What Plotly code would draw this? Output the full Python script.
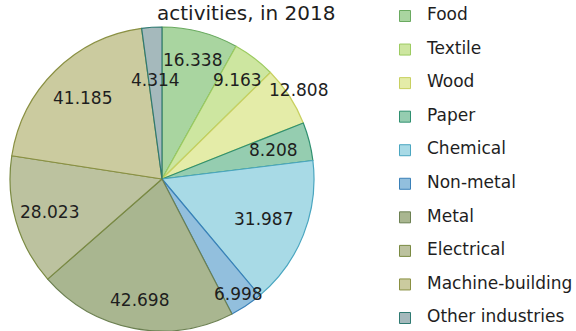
import math
import plotly.graph_objects as go

categories = ["Food", "Textile", "Wood", "Paper", "Chemical", "Non-metal",
              "Metal", "Electrical", "Machine-building", "Other industries"]
values = [16.338, 9.163, 12.808, 8.208, 31.987, 6.998, 42.698, 28.023, 41.185, 4.314]
title_text = "activities, in 2018"

# styles
fill_colors = ["#a9d5a0", "#cde6a0", "#e4eca8", "#95cdb0", "#a8dae6", "#92bfdd",
               "#a9b690", "#bcc29f", "#cbcb9f", "#a5b9bc"]
line_colors = ["#6aaa60", "#9ccb60", "#c8d060", "#2f9070", "#4aa6c0", "#3a80b8",
               "#6c8052", "#7a8a42", "#8a9042", "#2f7a72"]
label_radius = [0.81, 0.82, 1.07, 0.76, 0.72, 0.91, 0.81, 0.77, 0.75, 0.65]

W, H = 576, 331
PIE_L, PIE_R, PIE_T = 10, 314, 27
cx = (PIE_L + PIE_R) / 2
r = (PIE_R - PIE_L) / 2
cy = PIE_T + r
FONT = "DejaVu Sans"
TXT = "#1e1e1e"

fig = go.Figure()
fig.add_trace(go.Pie(
    labels=categories, values=values, sort=False, direction="clockwise", rotation=0,
    marker=dict(colors=fill_colors, line=dict(color=line_colors, width=1.2)),
    textinfo="none", showlegend=False, hoverinfo="label+value",
    domain=dict(x=[PIE_L / W, PIE_R / W], y=[0, 1 - PIE_T / H]),
))

# value labels placed at each slice's mid-angle
total = sum(values)
cum = 0.0
for v, rf in zip(values, label_radius):
    ang = math.radians((cum + v / 2) / total * 360)
    cum += v
    px = cx + rf * r * math.sin(ang)
    py = cy - rf * r * math.cos(ang)
    fig.add_annotation(text=f"{v:.3f}", x=px / W, y=1 - py / H, xref="paper", yref="paper",
                       xanchor="center", yanchor="middle", showarrow=False,
                       font=dict(family=FONT, size=17, color=TXT))

# legend drawn as markers + text on a hidden axis
idx = list(range(len(categories)))
fig.add_trace(go.Scatter(
    x=[405 / W] * len(categories), y=idx, mode="markers", showlegend=False, hoverinfo="skip",
    marker=dict(symbol="square", size=11, color=fill_colors, line=dict(color=line_colors, width=1)),
))
fig.add_trace(go.Scatter(
    x=[427 / W] * len(categories), y=idx, mode="text", text=categories,
    textposition="middle right", showlegend=False, hoverinfo="skip",
    textfont=dict(family=FONT, size=17, color=TXT),
))

pitch = (318 - 16) / (len(categories) - 1)
top = -16 / pitch
bottom = top + H / pitch

fig.add_annotation(text=title_text, x=246 / W, y=1 - 13 / H, xref="paper", yref="paper",
                   xanchor="center", yanchor="middle", showarrow=False,
                   font=dict(family=FONT, size=20, color=TXT))

fig.update_layout(
    width=W, height=H, margin=dict(l=0, r=0, t=0, b=0),
    paper_bgcolor="white", plot_bgcolor="rgba(0,0,0,0)",
    xaxis=dict(visible=False, domain=[0, 1], range=[0, 1], fixedrange=True),
    yaxis=dict(visible=False, domain=[0, 1], range=[bottom, top], fixedrange=True),
    showlegend=False,
)
fig.write_html("out.html", config={"displayModeBar": False},
               post_script="document.body.style.margin='0';document.body.style.overflow='hidden';")
